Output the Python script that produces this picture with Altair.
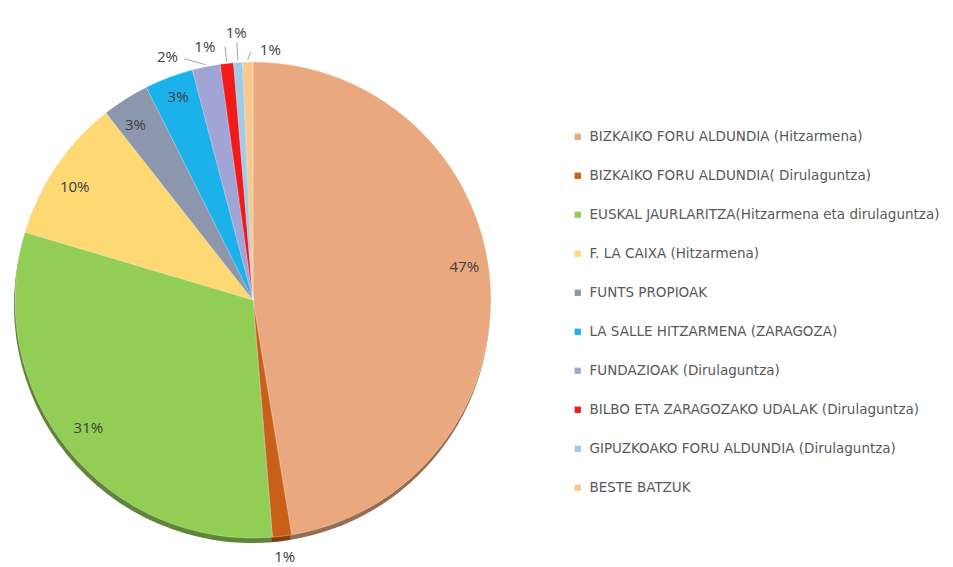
import altair as alt
import pandas as pd

categories = [
    "BIZKAIKO FORU ALDUNDIA (Hitzarmena)",
    "BIZKAIKO FORU ALDUNDIA( Dirulaguntza)",
    "EUSKAL JAURLARITZA(Hitzarmena eta dirulaguntza)",
    "F. LA CAIXA (Hitzarmena)",
    "FUNTS PROPIOAK",
    "LA SALLE  HITZARMENA (ZARAGOZA)",
    "FUNDAZIOAK (Dirulaguntza)",
    "BILBO ETA ZARAGOZAKO UDALAK  (Dirulaguntza)",
    "GIPUZKOAKO FORU ALDUNDIA (Dirulaguntza)",
    "BESTE BATZUK",
]
values = [47.4, 1.3, 30.9, 9.8, 3.2, 3.3, 1.9, 0.9, 0.6, 0.7]
pct_labels = ["47%", "1%", "31%", "10%", "3%", "3%", "2%", "1%", "1%", "1%"]
colors = ["#E9A87E", "#C9601A", "#92CD55", "#FDD873", "#8C97AE", "#1BB2EC",
          "#A2A4D6", "#F01A1A", "#9FCBE8", "#F8C98E"]

df = pd.DataFrame({
    "cat": categories,
    "value": values,
    "label": pct_labels,
    "idx": list(range(len(categories))),
})

CX, CY, R = 245, 292, 238

color = alt.Color(
    "cat:N",
    scale=alt.Scale(domain=categories, range=colors),
    sort=categories,
    legend=alt.Legend(
        title=None, orient="none", legendX=563, legendY=122,
        symbolType="square", symbolSize=40, symbolStrokeWidth=0,
        labelFont="DejaVu Sans", labelFontSize=13.5, labelColor="#595959",
        rowPadding=24, labelLimit=420, labelOffset=5,
    ),
)

base = alt.Chart(df)
theta = alt.Theta("value:Q", stack=True)
order = alt.Order("idx:Q")

shadow = base.mark_arc(radius=R).encode(
    theta=theta, order=order, color=color,
    x=alt.value(CX - 1), y=alt.value(CY + 5),
)
shadow_dark = base.mark_arc(radius=R, color="#000000", opacity=0.35).encode(
    theta=theta, order=order, x=alt.value(CX - 1), y=alt.value(CY + 5),
)
pie = base.mark_arc(radius=R, stroke="#ffffff", strokeWidth=0.3).encode(
    theta=theta, order=order, color=color,
    x=alt.value(CX), y=alt.value(CY),
)

txt = dict(font="Open Sans", fontSize=15, color="#404040")

stacked = base.transform_window(
    cum="sum(value)", sort=[{"field": "idx"}]
).transform_joinaggregate(total="sum(value)").transform_calculate(
    mid="(datum.cum - datum.value/2) / datum.total * 2 * PI"
)

def label_at(i, r, dx=0, dy=0):
    return stacked.transform_filter(f"datum.idx == {i}").transform_calculate(
        lx=f"{CX} + {r} * sin(datum.mid)", ly=f"{CY} - {r} * cos(datum.mid)"
    ).mark_text(dx=dx, dy=dy, **txt).encode(
        x=alt.X("lx:Q", scale=None), y=alt.Y("ly:Q", scale=None), text="label:N"
    )

def leader(i, r1, r2, dx=0, dy=0):
    return stacked.transform_filter(f"datum.idx == {i}").transform_calculate(
        x1=f"{CX} + {r1} * sin(datum.mid)", y1=f"{CY} - {r1} * cos(datum.mid)",
        x2=f"{CX} + {r2} * sin(datum.mid) + {dx}", y2=f"{CY} - {r2} * cos(datum.mid) + {dy}",
    ).mark_rule(color="#A6A6A6", strokeWidth=1).encode(
        x=alt.X("x1:Q", scale=None), y=alt.Y("y1:Q", scale=None),
        x2="x2:Q", y2="y2:Q",
    )

labels = [
    label_at(0, 212, 0, -16),
    label_at(1, 259),
    label_at(2, 212, 0, -6),
    label_at(3, 212, -3, 6),
    label_at(4, 212, -4, 4),
    label_at(5, 212, 0, -5),
    label_at(6, 257, -35, 9),
    label_at(7, 257, -20, 2),
    label_at(8, 268),
    label_at(9, 257, 23, 7),
]
leaders = [
    leader(6, 240, 248, -20, 2),
    leader(7, 240, 255),
    leader(8, 240, 258),
    leader(9, 240, 248, 3, 0),
]

chart = alt.layer(shadow, shadow_dark, pie, *leaders, *labels).properties(
    width=930, height=548, padding=0
).configure_view(stroke=None)

chart.save("out.html", embed_options={"renderer": "svg", "actions": False})
